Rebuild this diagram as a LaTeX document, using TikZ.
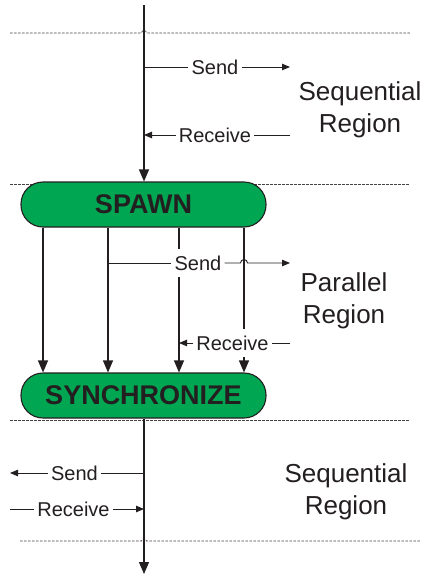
\documentclass[tikz,border=0pt]{standalone}
\usepackage{fontspec}
\setmainfont{Liberation Sans}
\usetikzlibrary{arrows.meta,calc}
\definecolor{boxgreen}{RGB}{0,166,81}
\definecolor{ink}{RGB}{35,31,32}
\begin{document}
\begin{tikzpicture}[x=1pt,y=-1pt,
  flow/.style={draw=ink, line width=1.2pt},
  msgline/.style={draw=ink, line width=0.9pt},
  bigtip/.style={-{Triangle[length=12pt,width=10pt]}},
  smalltip/.style={-{Triangle[length=8pt,width=6.5pt]}},
  divider/.style={draw=ink!85, line width=0.7pt, dash pattern=on 2.5pt off 1.5pt},
  stage/.style={draw=ink, line width=1.1pt, fill=boxgreen, rounded corners=22pt,
    minimum width=245pt, minimum height=45pt, inner sep=0pt, text=ink,
    font=\bfseries\fontsize{27}{30}\selectfont},
  msg/.style={text=ink, inner xsep=3pt, inner ysep=7pt, font=\fontsize{20}{24}\selectfont},
  regionlabel/.style={text=ink, align=center, font=\fontsize{26}{32}\selectfont},
]
\useasboundingbox (0,0) rectangle (428,575);
\fill[white] (0,0) rectangle (428,575);

% region boundaries
\draw[divider] (10,33) -- (141.5,33) arc[start angle=180,end angle=360,radius=2.5] -- (410,33);
\draw[divider] (10,184) -- (410,184);
\draw[divider] (10,420) -- (410,420);
\draw[divider] (20,541) -- (141.5,541) arc[start angle=180,end angle=360,radius=2.5] -- (420,541);

% stages
\node[stage] (spawn) at (143.5,204.5) {SPAWN};
\node[stage] (sync) at (143.5,395.5) {SYNCHRONIZE};

% main thread
\coordinate (start) at (144,5);
\coordinate (finish) at (144,574);
\draw[flow,bigtip] (start) -- (spawn.north -| start);
\draw[flow,bigtip] (sync.south -| start) -- (finish);

% sequential messages (top)
\node[msg] (send1) at (215,67) {Send};
\node[msg] (recv1) at (215,135) {Receive};
\coordinate (out1) at (290,67);
\coordinate (in1) at (290,135);
\draw[msgline] (send1.west -| start) -- (send1.west);
\draw[msgline,smalltip] (send1.east) -- (out1);
\draw[msgline] (in1) -- (recv1.east);
\draw[msgline,smalltip] (recv1.west) -- (recv1.west -| start);
\node[regionlabel] (seqtop) at (360,110) {Sequential\\Region};

% parallel threads
\coordinate (c1) at (43,0);
\coordinate (c2) at (108,0);
\coordinate (c3) at (179,0);
\coordinate (c4) at (244,0);
\foreach \c in {c1,c2,c3,c4}
  \draw[flow,bigtip] (spawn.south -| \c) -- (sync.north -| \c);

% parallel messages
\node[msg,fill=white] (send2) at (198,263) {Send};
\node[msg,fill=white] (recv2) at (232.5,343) {Receive};
\coordinate (out2) at (290,263);
\coordinate (in2) at (290,343);
\draw[msgline] (send2.west -| c2) -- (send2.west);
\draw[msgline,smalltip] (send2.east) -- ($(send2.east -| c4)+(-3.5,0)$)
  arc[start angle=180,end angle=360,radius=3.5] -- (out2);
\draw[msgline] (in2) -- (recv2.east);
\draw[msgline,smalltip] (recv2.west) -- (recv2.west -| c3);
\node[regionlabel] (partext) at (344,301) {Parallel\\Region};

% sequential messages (bottom)
\node[msg] (send3) at (74.5,473) {Send};
\node[msg] (recv3) at (73.5,509) {Receive};
\coordinate (out3) at (10,473);
\coordinate (in3) at (10,509);
\draw[msgline] (send3.east -| start) -- (send3.east);
\draw[msgline,smalltip] (send3.west) -- (out3);
\draw[msgline] (in3) -- (recv3.west);
\draw[msgline,smalltip] (recv3.east) -- (recv3.east -| start);
\node[regionlabel] (seqbot) at (346,492) {Sequential\\Region};
\end{tikzpicture}
\end{document}
